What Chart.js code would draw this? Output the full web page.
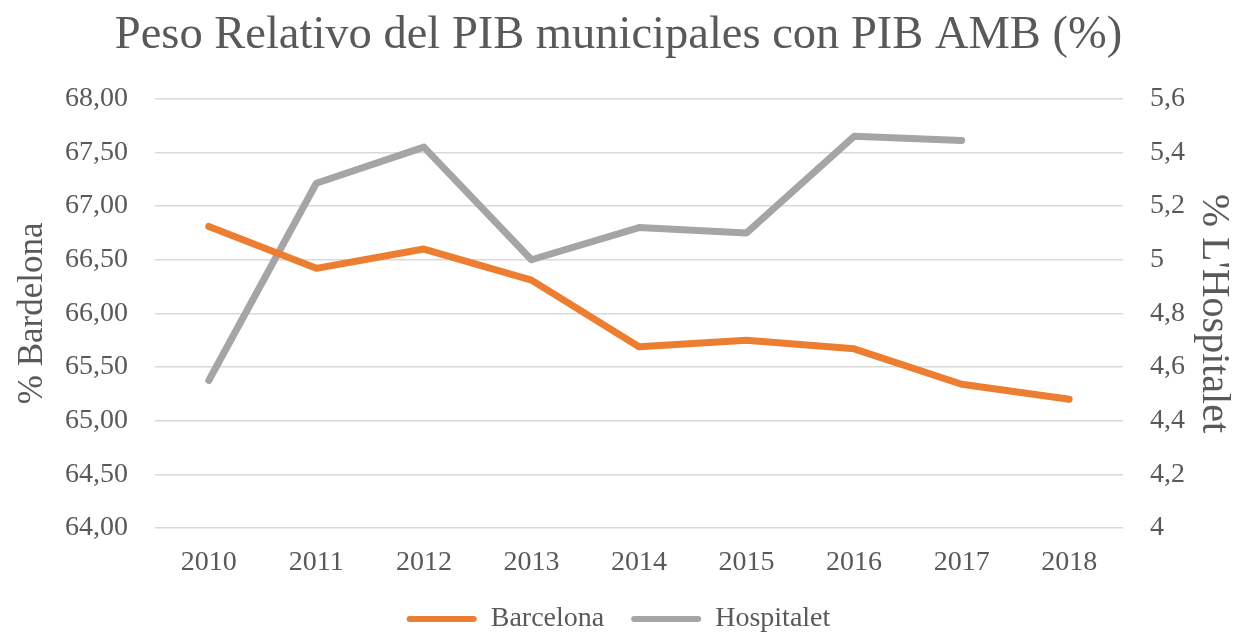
<!DOCTYPE html>
<html>
<head>
<meta charset="utf-8">
<script src="https://cdn.jsdelivr.net/npm/chart.js@4/dist/chart.umd.min.js"></script>
<style>
  html, body { margin: 0; padding: 0; background: #fff; }
</style>
</head>
<body>
<canvas id="grafica" width="1237" height="638"></canvas>
<script>
// datos
const anios = ['2010', '2011', '2012', '2013', '2014', '2015', '2016', '2017', '2018'];
const barcelona = [66.81, 66.42, 66.60, 66.31, 65.69, 65.75, 65.67, 65.34, 65.20];
const hospitalet = [4.55, 5.285, 5.42, 5.00, 5.12, 5.10, 5.46, 5.445, null];
const tituloIzq = '% Bardelona';
const tituloDer = "% L'Hospitalet";

const gris = '#595959';
const serif = "'Liberation Serif', 'Times New Roman', serif";

let ctx = document.querySelector('#grafica').getContext('2d');

let chart = new Chart(ctx, {
  type: 'line',
  data: {
    labels: anios,
    datasets: [
      {
        label: 'Barcelona',
        data: barcelona,
        yAxisID: 'y',
        borderColor: '#ED7D31',
        backgroundColor: '#ED7D31',
        borderWidth: 7,
        borderCapStyle: 'round',
        borderJoinStyle: 'round',
        pointRadius: 0,
        tension: 0
      },
      {
        label: 'Hospitalet',
        data: hospitalet,
        yAxisID: 'y1',
        borderColor: '#A5A5A5',
        backgroundColor: '#A5A5A5',
        borderWidth: 7,
        borderCapStyle: 'round',
        borderJoinStyle: 'round',
        pointRadius: 0,
        tension: 0
      }
    ]
  },
  options: {
    responsive: false,
    animation: false,
    layout: { padding: { left: 0, right: 0, top: 0, bottom: 0 } },
    plugins: {
      tooltip: { enabled: false },
      title: {
        display: true,
        text: 'Peso Relativo del PIB municipales con PIB AMB (%)',
        color: gris,
        font: { family: serif, size: 46.5, weight: 'normal' },
        padding: { top: 8, bottom: 35 }
      },
      legend: {
        position: 'bottom',
        maxHeight: 60,
        labels: {
          color: gris,
          font: { family: serif, size: 28 },
          boxWidth: 70,
          boxHeight: 6,
          useBorderRadius: true,
          borderRadius: 3,
          padding: 27,
          generateLabels: (c) => c.data.datasets.map((d, i) => ({
            text: d.label,
            fillStyle: d.borderColor,
            strokeStyle: d.borderColor,
            lineWidth: 0,
            borderRadius: 3,
            fontColor: gris,
            datasetIndex: i
          }))
        }
      }
    },
    scales: {
      x: {
        offset: true,
        grid: { display: false },
        border: { display: false },
        ticks: { color: gris, font: { family: serif, size: 28 }, padding: 10 },
        afterFit: (s) => { s.height = 50; }
      },
      y: {
        position: 'left',
        min: 64,
        max: 68,
        ticks: {
          stepSize: 0.5,
          color: gris,
          font: { family: serif, size: 28 },
          padding: 27,
          callback: (v) => v.toFixed(2).replace('.', ',')
        },
        grid: { color: '#D9D9D9', lineWidth: 1.5, drawTicks: false },
        border: { display: false },
        title: {
          display: true,
          text: tituloIzq,
          color: gris,
          font: { family: serif, size: 35 },
          padding: { top: 12, bottom: 0 }
        },
        afterFit: (s) => { s.width = 155; }
      },
      y1: {
        position: 'right',
        min: 4,
        max: 5.6,
        ticks: {
          stepSize: 0.2,
          color: gris,
          font: { family: serif, size: 28 },
          padding: 27,
          callback: (v) => String(Math.round(v * 10) / 10).replace('.', ',')
        },
        grid: { display: false, drawTicks: false },
        border: { display: false },
        title: {
          display: true,
          text: tituloDer,
          color: gris,
          font: { family: serif, size: 40 },
          padding: 0
        },
        afterFit: (s) => { s.width = 114; }
      }
    }
  }
});
</script>
</body>
</html>
